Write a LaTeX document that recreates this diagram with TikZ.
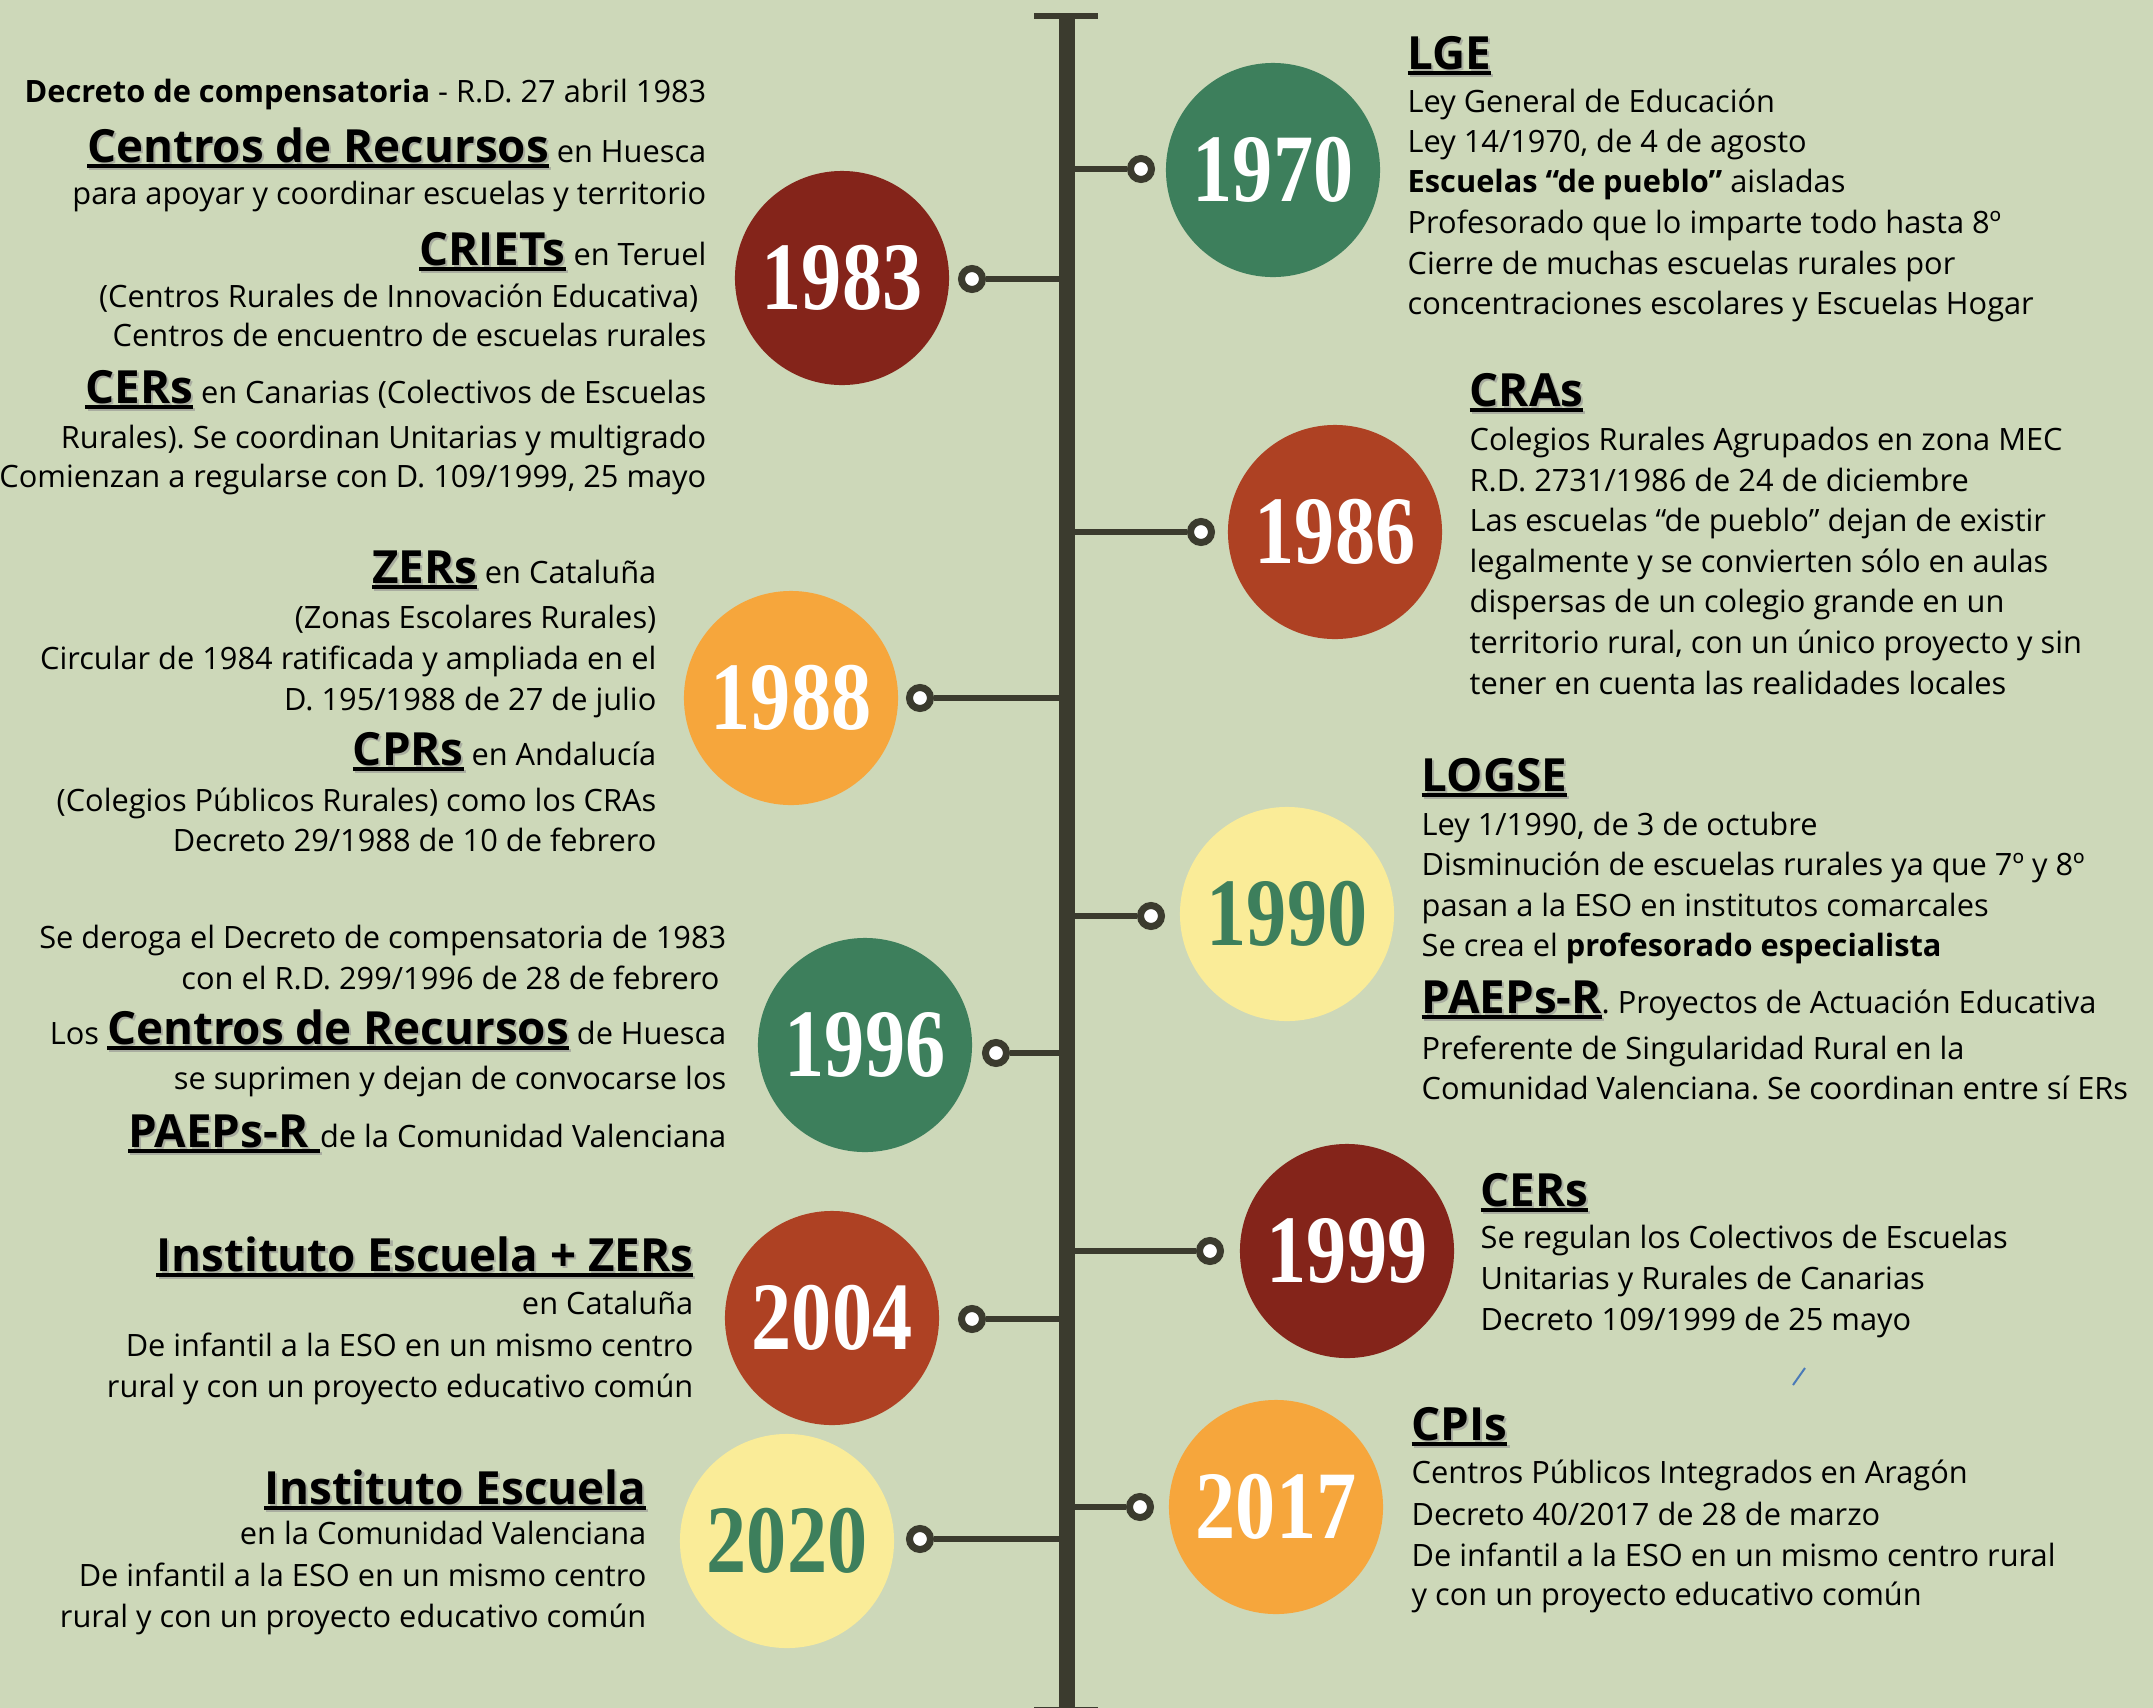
\documentclass[tikz,border=0pt]{standalone}
\usepackage{fontspec}
\setmainfont{Open Sans}
\newfontfamily\yearfont[FakeStretch=0.83]{Liberation Serif}
\frenchspacing
\definecolor{fondo}{HTML}{CDD8B9}
\definecolor{eje}{HTML}{3B3B2E}
\definecolor{verde}{HTML}{3D7F5C}
\definecolor{granate}{HTML}{84241A}
\definecolor{teja}{HTML}{AE4123}
\definecolor{naranja}{HTML}{F6A63C}
\definecolor{amarillo}{HTML}{FAEC98}
\definecolor{sombra}{HTML}{A9ADA0}
\definecolor{trazo}{HTML}{4A7AB8}
% titulo subrayado con sombra
\newcommand\hd[1]{\setbox0\hbox{\fontsize{13}{16}\selectfont\bfseries #1}%
  \rlap{\kern0.6pt\raisebox{-0.6pt}{\color{sombra}\copy0\llap{\rule[-1.8pt]{\wd0}{1.1pt}}}}%
  \copy0\llap{\rule[-1.8pt]{\wd0}{1.1pt}}}
\tikzstyle{anio} = [circle, minimum size=2.14cm, inner sep=0pt, text=white, font=\yearfont\bfseries\fontsize{27.5}{30}\selectfont]
\tikzstyle{punto} = [circle, draw=eje, line width=0.07cm, fill=white, minimum size=0.21cm, inner sep=0pt]
\tikzstyle{enlace} = [draw=eje, line width=0.06cm]
\tikzstyle{tronco} = [draw=eje, line width=0.16cm]
\tikzstyle{barra} = [draw=eje, line width=0.06cm]
\tikzstyle{izq} = [anchor=base east, inner sep=0pt, font=\fontsize{8.75}{11}\selectfont]
\tikzstyle{der} = [anchor=base west, inner sep=0pt, font=\fontsize{8.75}{11}\selectfont]

\begin{document}
\begin{tikzpicture}[x=0.01cm, y=-0.01cm]
\clip (0,0) rectangle (2153,1708);
\fill[fondo] (0,0) rectangle (2153,1708);

% eje central
\coordinate (top) at (1067,16);
\coordinate (bot) at (1067,1710);
\draw[tronco] (top) -- (bot);
\draw[barra] ([shift={(-33,0)}]top) -- ([shift={(31,0)}]top);
\draw[barra] ([shift={(-33,0)}]bot) -- ([shift={(31,0)}]bot);

% puntos
\node (d1970) [punto] at (1141,169) {};
\node (d1983) [punto] at (972,279) {};
\node (d1986) [punto] at (1201,532) {};
\node (d1988) [punto] at (920,698) {};
\node (d1990) [punto] at (1151,916) {};
\node (d1996) [punto] at (996,1053) {};
\node (d1999) [punto] at (1210,1251) {};
\node (d2004) [punto] at (972,1319) {};
\node (d2017) [punto] at (1140,1507) {};
\node (d2020) [punto] at (920,1539) {};

\draw[enlace] (d1970.west) -- (d1970.west -| top);
\draw[enlace] (d1983.east) -- (d1983.east -| top);
\draw[enlace] (d1986.west) -- (d1986.west -| top);
\draw[enlace] (d1988.east) -- (d1988.east -| top);
\draw[enlace] (d1990.west) -- (d1990.west -| top);
\draw[enlace] (d1996.east) -- (d1996.east -| top);
\draw[enlace] (d1999.west) -- (d1999.west -| top);
\draw[enlace] (d2004.east) -- (d2004.east -| top);
\draw[enlace] (d2017.west) -- (d2017.west -| top);
\draw[enlace] (d2020.east) -- (d2020.east -| top);

% circulos
\node (y1970) [anio, fill=verde] at (1273,170) {1970};
\node (y1983) [anio, fill=granate] at (842,278) {1983};
\node (y1986) [anio, fill=teja] at (1335,532) {1986};
\node (y1988) [anio, fill=naranja] at (791,698) {1988};
\node (y1990) [anio, fill=amarillo, text=verde] at (1287,914) {1990};
\node (y1996) [anio, fill=verde] at (865,1045) {1996};
\node (y1999) [anio, fill=granate] at (1347,1251) {1999};
\node (y2004) [anio, fill=teja] at (832,1318) {2004};
\node (y2017) [anio, fill=naranja] at (1276,1507) {2017};
\node (y2020) [anio, fill=amarillo, text=verde] at (787,1541) {2020};

% 1983
\node (t83a) [izq] at (707,102) {\textbf{Decreto de compensatoria} - R.D. 27 abril 1983};
\node (t83b) [izq] at (707,162) {\hd{Centros de Recursos} en Huesca};
\node (t83c) [izq] at (707,204) {para apoyar y coordinar escuelas y territorio};
\node (t83d) [izq] at (707,265) {\hd{CRIETs} en Teruel};
\node (t83e) [izq] at (699,307) {(Centros Rurales de Innovación Educativa)};
\node (t83f) [izq] at (707,346) {Centros de encuentro de escuelas rurales};
\node (t83g) [izq] at (707,403) {\hd{CERs} en Canarias (Colectivos de Escuelas};
\node (t83h) [izq] at (707,448) {Rurales). Se coordinan Unitarias y multigrado};
\node (t83i) [izq] at (707,487) {Comienzan a regularse con D. 109/1999, 25 mayo};

% 1988
\node (t88a) [izq] at (657,583) {\hd{ZERs} en Cataluña};
\node (t88b) [izq] at (657,628) {(Zonas Escolares Rurales)};
\node (t88c) [izq] at (657,669) {Circular de 1984 ratificada y ampliada en el};
\node (t88d) [izq] at (657,710) {D. 195/1988 de 27 de julio};
\node (t88e) [izq] at (657,765) {\hd{CPRs} en Andalucía};
\node (t88f) [izq] at (657,811) {(Colegios Públicos Rurales) como los CRAs};
\node (t88g) [izq] at (657,851) {Decreto 29/1988 de 10 de febrero};

% 1996
\node (t96a) [izq] at (727,948) {Se deroga el Decreto de compensatoria de 1983};
\node (t96b) [izq] at (720,989) {con el R.D. 299/1996 de 28 de febrero};
\node (t96c) [izq] at (727,1044) {Los \hd{Centros de Recursos} de Huesca};
\node (t96d) [izq] at (727,1089) {se suprimen y dejan de convocarse los};
\node (t96e) [izq] at (727,1147) {\hd{PAEPs-R\ }de la Comunidad Valenciana};

% 2004
\node (t04a) [izq] at (694,1271) {\hd{Instituto Escuela + ZERs}};
\node (t04b) [izq] at (694,1314) {en Cataluña};
\node (t04c) [izq] at (694,1356) {De infantil a la ESO en un mismo centro};
\node (t04d) [izq] at (694,1397) {rural y con un proyecto educativo común};

% 2020
\node (t20a) [izq] at (647,1504) {\hd{Instituto Escuela}};
\node (t20b) [izq] at (647,1544) {en la Comunidad Valenciana};
\node (t20c) [izq] at (647,1586) {De infantil a la ESO en un mismo centro};
\node (t20d) [izq] at (647,1627) {rural y con un proyecto educativo común};

% 1970
\node (t70a) [der] at (1407,69) {\hd{LGE}};
\node (t70b) [der] at (1407,112) {Ley General de Educación};
\node (t70c) [der] at (1407,152) {Ley 14/1970, de 4 de agosto};
\node (t70d) [der] at (1407,192) {\textbf{Escuelas “de pueblo”} aisladas};
\node (t70e) [der] at (1407,233) {Profesorado que lo imparte todo hasta 8º};
\node (t70f) [der] at (1407,274) {Cierre de muchas escuelas rurales por};
\node (t70g) [der] at (1407,314) {concentraciones escolares y Escuelas Hogar};

% 1986
\node (t86a) [der] at (1469,406) {\hd{CRAs}};
\node (t86b) [der] at (1469,450) {Colegios Rurales Agrupados en zona MEC};
\node (t86c) [der] at (1469,491) {R.D. 2731/1986 de 24 de diciembre};
\node (t86d) [der] at (1469,531) {Las escuelas “de pueblo” dejan de existir};
\node (t86e) [der] at (1469,572) {legalmente y se convierten sólo en aulas};
\node (t86f) [der] at (1469,612) {dispersas de un colegio grande en un};
\node (t86g) [der] at (1469,653) {territorio rural, con un único proyecto y sin};
\node (t86h) [der] at (1469,694) {tener en cuenta las realidades locales};

% 1990
\node (t90a) [der] at (1421,791) {\hd{LOGSE}};
\node (t90b) [der] at (1421,835) {Ley 1/1990, de 3 de octubre};
\node (t90c) [der] at (1421,875) {Disminución de escuelas rurales ya que 7º y 8º};
\node (t90d) [der] at (1421,916) {pasan a la ESO en institutos comarcales};
\node (t90e) [der] at (1421,956) {Se crea el \textbf{profesorado especialista}};
\node (t90f) [der] at (1421,1013) {\hd{PAEPs-R}. Proyectos de Actuación Educativa};
\node (t90g) [der] at (1421,1059) {Preferente de Singularidad Rural en la};
\node (t90h) [der] at (1421,1099) {Comunidad Valenciana. Se coordinan entre sí ERs};

% 1999
\node (t99a) [der] at (1480,1206) {\hd{CERs}};
\node (t99b) [der] at (1480,1248) {Se regulan los Colectivos de Escuelas};
\node (t99c) [der] at (1480,1289) {Unitarias y Rurales de Canarias};
\node (t99d) [der] at (1480,1330) {Decreto 109/1999 de 25 mayo};

% 2017
\node (t17a) [der] at (1411,1440) {\hd{CPIs}};
\node (t17b) [der] at (1411,1483) {Centros Públicos Integrados en Aragón};
\node (t17c) [der] at (1411,1525) {Decreto 40/2017 de 28 de marzo};
\node (t17d) [der] at (1411,1566) {De infantil a la ESO en un mismo centro rural};
\node (t17e) [der] at (1411,1605) {y con un proyecto educativo común};

% trazo suelto
\draw[trazo, line width=0.02cm] (1793,1385) -- (1805,1368);
\end{tikzpicture}
\end{document}
